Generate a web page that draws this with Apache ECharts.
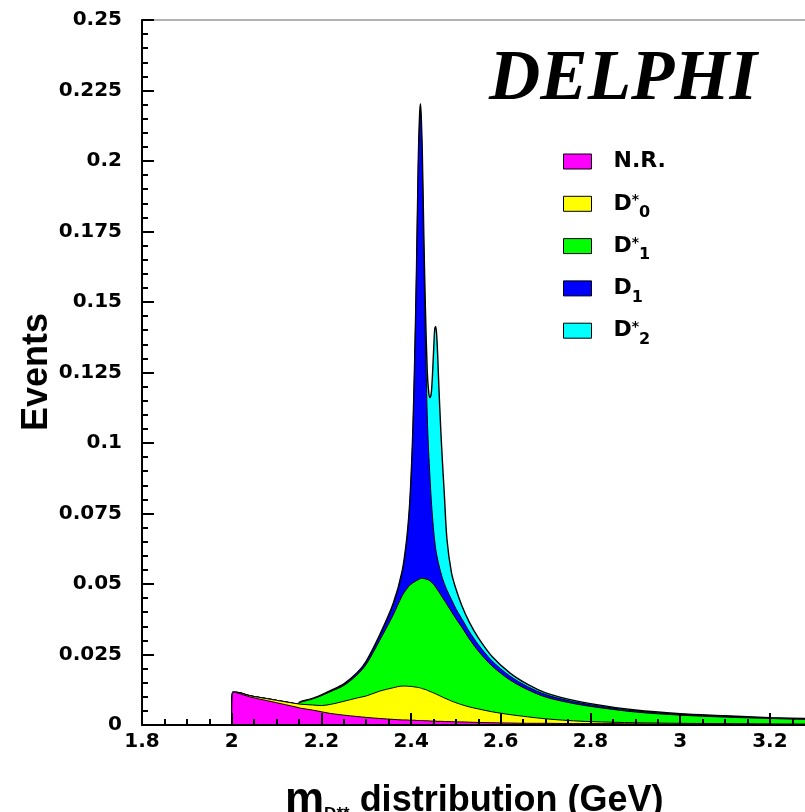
<!DOCTYPE html>
<html>
<head>
<meta charset="utf-8">
<script src="https://cdn.jsdelivr.net/npm/echarts@6/dist/echarts.min.js"></script>
<style>html,body{margin:0;padding:0;background:#fff}#c{width:805px;height:812px}</style>
</head>
<body>
<div id="c"></div>
<script>
// D** invariant mass grid (GeV)
const mass = [2.000, 2.002, 2.010, 2.040, 2.080, 2.120, 2.148, 2.152, 2.180, 2.200,
  2.220, 2.250, 2.280, 2.300, 2.330, 2.360, 2.380, 2.390, 2.396, 2.400,
  2.404, 2.408, 2.412, 2.416, 2.419, 2.421, 2.423, 2.425, 2.4285, 2.432,
  2.436, 2.439, 2.442, 2.445, 2.448, 2.451, 2.453, 2.455, 2.458, 2.462,
  2.466, 2.470, 2.474, 2.480, 2.490, 2.500, 2.513, 2.530, 2.550, 2.580,
  2.620, 2.660, 2.700, 2.750, 2.800, 2.900, 3.000, 3.100, 3.200, 3.300];

// components (Events), stacked bottom to top in this order
const nr = [0, 0.0116, 0.0115, 0.0100, 0.0086, 0.0072, 0.0062, 0.0060, 0.0053, 0.0047,
  0.0041, 0.0035, 0.0030, 0.0027, 0.0023, 0.0020, 0.0018, 0.0018, 0.0017, 0.0017,
  0.0017, 0.0017, 0.0016, 0.0016, 0.0016, 0.0016, 0.0016, 0.0016, 0.0015, 0.0015,
  0.0015, 0.0015, 0.0014, 0.0014, 0.0014, 0.0014, 0.0014, 0.0014, 0.0013, 0.0013,
  0.0013, 0.0013, 0.0012, 0.0012, 0.0012, 0.0011, 0.0011, 0.0010, 0.0009, 0.0008,
  0.0007, 0.0006, 0.0006, 0.0005, 0.0005, 0.0004, 0.0003, 0.0003, 0.0002, 0.0002];

const d0star = [0, 0, 0.0001, 0.0004, 0.0007, 0.0010, 0.0013, 0.0014, 0.0018, 0.0022,
  0.0032, 0.0049, 0.0066, 0.0076, 0.0097, 0.0112, 0.0120, 0.0120, 0.0120, 0.0120,
  0.0119, 0.0118, 0.0118, 0.0117, 0.0116, 0.0115, 0.0114, 0.0113, 0.0112, 0.0111,
  0.0108, 0.0106, 0.0105, 0.0103, 0.0101, 0.0099, 0.0098, 0.0096, 0.0095, 0.0092,
  0.0089, 0.0086, 0.0084, 0.0080, 0.0073, 0.0068, 0.0061, 0.0054, 0.0048, 0.0039,
  0.0030, 0.0023, 0.0016, 0.0011, 0.0007, 0.0004, 0.0003, 0.0002, 0.0002, 0.0001];

const d1star = [0, 0, 0, 0, 0, 0, 0, 0.0006, 0.0021, 0.0035,
  0.0045, 0.0056, 0.0082, 0.0112, 0.0180, 0.0258, 0.0320, 0.0344, 0.0357, 0.0362,
  0.0368, 0.0373, 0.0378, 0.0382, 0.0386, 0.0388, 0.0390, 0.0391, 0.0392, 0.0392,
  0.0393, 0.0393, 0.0392, 0.0390, 0.0387, 0.0384, 0.0381, 0.0378, 0.0373, 0.0367,
  0.0360, 0.0353, 0.0346, 0.0335, 0.0317, 0.0298, 0.0275, 0.0241, 0.0205, 0.0163,
  0.0123, 0.0096, 0.0077, 0.0064, 0.0054, 0.0038, 0.0029, 0.0023, 0.0019, 0.0016];

const d1 = [0, 0, 0, 0, 0, 0, 0, 0.0001, 0.0001, 0.0002,
  0.0003, 0.0004, 0.0006, 0.0009, 0.0016, 0.0035, 0.0080, 0.0165, 0.0260, 0.0370,
  0.0530, 0.0770, 0.1080, 0.1460, 0.1620, 0.1650, 0.1580, 0.1460, 0.1130, 0.0840,
  0.0580, 0.0460, 0.0370, 0.0290, 0.0230, 0.0180, 0.0155, 0.0135, 0.0115, 0.0095,
  0.0080, 0.0068, 0.0060, 0.0051, 0.0043, 0.0035, 0.0030, 0.0026, 0.0023, 0.0018,
  0.0014, 0.0011, 0.0009, 0.0007, 0.0006, 0.0004, 0.0003, 0.0003, 0.0002, 0.0002];

const d2star = [0, 0, 0, 0, 0, 0, 0, 0.0001, 0.0001, 0.0001,
  0.0001, 0.0002, 0.0002, 0.0003, 0.0004, 0.0006, 0.0008, 0.0010, 0.0012, 0.0014,
  0.0016, 0.0019, 0.0022, 0.0026, 0.0030, 0.0034, 0.0040, 0.0050, 0.0080, 0.0115,
  0.0160, 0.0210, 0.0280, 0.0380, 0.0520, 0.0680, 0.0760, 0.0790, 0.0760, 0.0630,
  0.0510, 0.0410, 0.0320, 0.0180, 0.0095, 0.0070, 0.0047, 0.0033, 0.0024, 0.0016,
  0.0011, 0.0008, 0.0006, 0.0005, 0.0004, 0.0003, 0.0002, 0.0002, 0.0001, 0.0001];

const seriesNames = ['N.R.', 'D*0', 'D*1', 'D1', 'D*2'];
const legendLabels = {
  'N.R.': '{b|N.R.}',
  'D*0': '{b|D}{sup|*}{sub|0}',
  'D*1': '{b|D}{sup|*}{sub|1}',
  'D1': '{b|D}{sub|1}',
  'D*2': '{b|D}{sup|*}{sub|2}'
};
const xTickLabels = ['1.8', '2', '2.2', '2.4', '2.6', '2.8', '3', '3.2'];
const yTickLabels = ['0', '0.025', '0.05', '0.075', '0.1', '0.125', '0.15', '0.175', '0.2', '0.225', '0.25'];

const colors = ['#ff00ff', '#ffff00', '#00ff00', '#0000ff', '#00ffff'];
const componentValues = [nr, d0star, d1star, d1, d2star];

// running sums: upper edge of each stacked layer
const cumulative = [];
componentValues.forEach((vals, i) => {
  cumulative.push(vals.map((v, j) => (i ? cumulative[i - 1][j] : 0) + v));
});

const tickFont = {fontFamily: 'DejaVu Sans', fontWeight: 'bold', fontSize: 20, color: '#000'};

const chart = echarts.init(document.getElementById('c'), null, {renderer: 'canvas'});
chart.setOption({
  animation: false,
  backgroundColor: '#fff',
  grid: {left: 142, top: 20, width: 717.6, height: 705, show: true, borderColor: '#666', borderWidth: 1,
         backgroundColor: 'transparent', containLabel: false, outerBoundsMode: 'none'},
  xAxis: {
    type: 'value', min: 1.8, max: 3.4, interval: 0.2, z: 50,
    axisLine: {show: true, onZero: false, lineStyle: {color: '#000', width: 2}},
    axisTick: {show: true, inside: true, length: 12, lineStyle: {color: '#000', width: 2}},
    minorTick: {show: true, splitNumber: 4, length: 6, lineStyle: {color: '#000', width: 2}},
    splitLine: {show: false}, minorSplitLine: {show: false},
    axisLabel: Object.assign({margin: 7, showMaxLabel: false,
      formatter: v => { const i = Math.round((v - 1.8) / 0.2); return (Math.abs(v - 1.8 - i * 0.2) < 1e-6 && xTickLabels[i]) || ''; }}, tickFont)
  },
  yAxis: {
    type: 'value', min: 0, max: 0.25, interval: 0.025, z: 50,
    axisLine: {show: true, lineStyle: {color: '#000', width: 2}},
    axisTick: {show: true, inside: true, length: 12, lineStyle: {color: '#000', width: 2}},
    minorTick: {show: true, splitNumber: 5, length: 6, lineStyle: {color: '#000', width: 2}},
    splitLine: {show: false}, minorSplitLine: {show: false},
    axisLabel: Object.assign({margin: 20, padding: [4, 0, 0, 0],
      formatter: v => yTickLabels[Math.round(v / 0.025)] || ''}, tickFont)
  },
  legend: {
    orient: 'vertical', left: 558, top: 139.5, padding: 5,
    itemWidth: 28, itemHeight: 15, itemGap: 8.3, icon: 'rect',
    selectedMode: false,
    itemStyle: {borderColor: '#000', borderWidth: 1},
    data: seriesNames.map((n, i) => ({name: n, icon: 'rect', itemStyle: {color: colors[i], borderColor: '#000', borderWidth: 1}})),
    formatter: n => legendLabels[n],
    textStyle: {
      fontFamily: 'DejaVu Sans', fontWeight: 'bold', fontSize: 22, color: '#000', lineHeight: 34,
      padding: [0, 0, 0, 17],
      rich: {
        b: {fontFamily: 'DejaVu Sans', fontWeight: 'bold', fontSize: 22, color: '#000', lineHeight: 34},
        sup: {fontFamily: 'DejaVu Sans', fontWeight: 'bold', fontSize: 14, color: '#000', verticalAlign: 'middle', padding: [0, 0, 6, 0]},
        sub: {fontFamily: 'DejaVu Sans', fontWeight: 'bold', fontSize: 16, color: '#000', verticalAlign: 'bottom'}
      }
    }
  },
  graphic: [
    {type: 'text', x: 489, y: 45.5, z: 100,
     style: {text: 'DELPHI', font: 'italic bold 71px "Liberation Serif"', fill: '#000', verticalAlign: 'top', align: 'left'}},
    {type: 'text', x: 37, y: 372, rotation: Math.PI / 2, z: 100,
     style: {text: 'Events', font: 'bold 36px "Liberation Sans"', fill: '#000', align: 'center', verticalAlign: 'middle'}},
    {type: 'text', x: 285, y: 779, z: 100,
     style: {text: '{m|m}{s|D**}{t| distribution (GeV)}', fill: '#000', align: 'left', verticalAlign: 'top',
       rich: {
         m: {fontFamily: 'Liberation Sans', fontWeight: 'bold', fontSize: 44, lineHeight: 44, fill: '#000'},
         s: {fontFamily: 'Liberation Sans', fontWeight: 'bold', fontSize: 17, lineHeight: 34, verticalAlign: 'bottom', fill: '#000'},
         t: {fontFamily: 'Liberation Sans', fontWeight: 'bold', fontSize: 36, lineHeight: 44, fill: '#000'}
       }}}
  ],
  // lower layers are drawn above the upper ones so each black edge stays visible
  series: seriesNames.map((n, i) => ({
    name: n, type: 'line',
    data: mass.map((m, j) => [m, cumulative[i][j]]),
    showSymbol: false, symbol: 'none', smooth: 0.3, z: 10 - i,
    lineStyle: {color: '#000', width: i === 4 ? 1.4 : 1},
    itemStyle: {color: colors[i]},
    areaStyle: {color: colors[i], opacity: 1, origin: 'start'},
    emphasis: {disabled: true}, silent: true
  }))
});
</script>
</body>
</html>
